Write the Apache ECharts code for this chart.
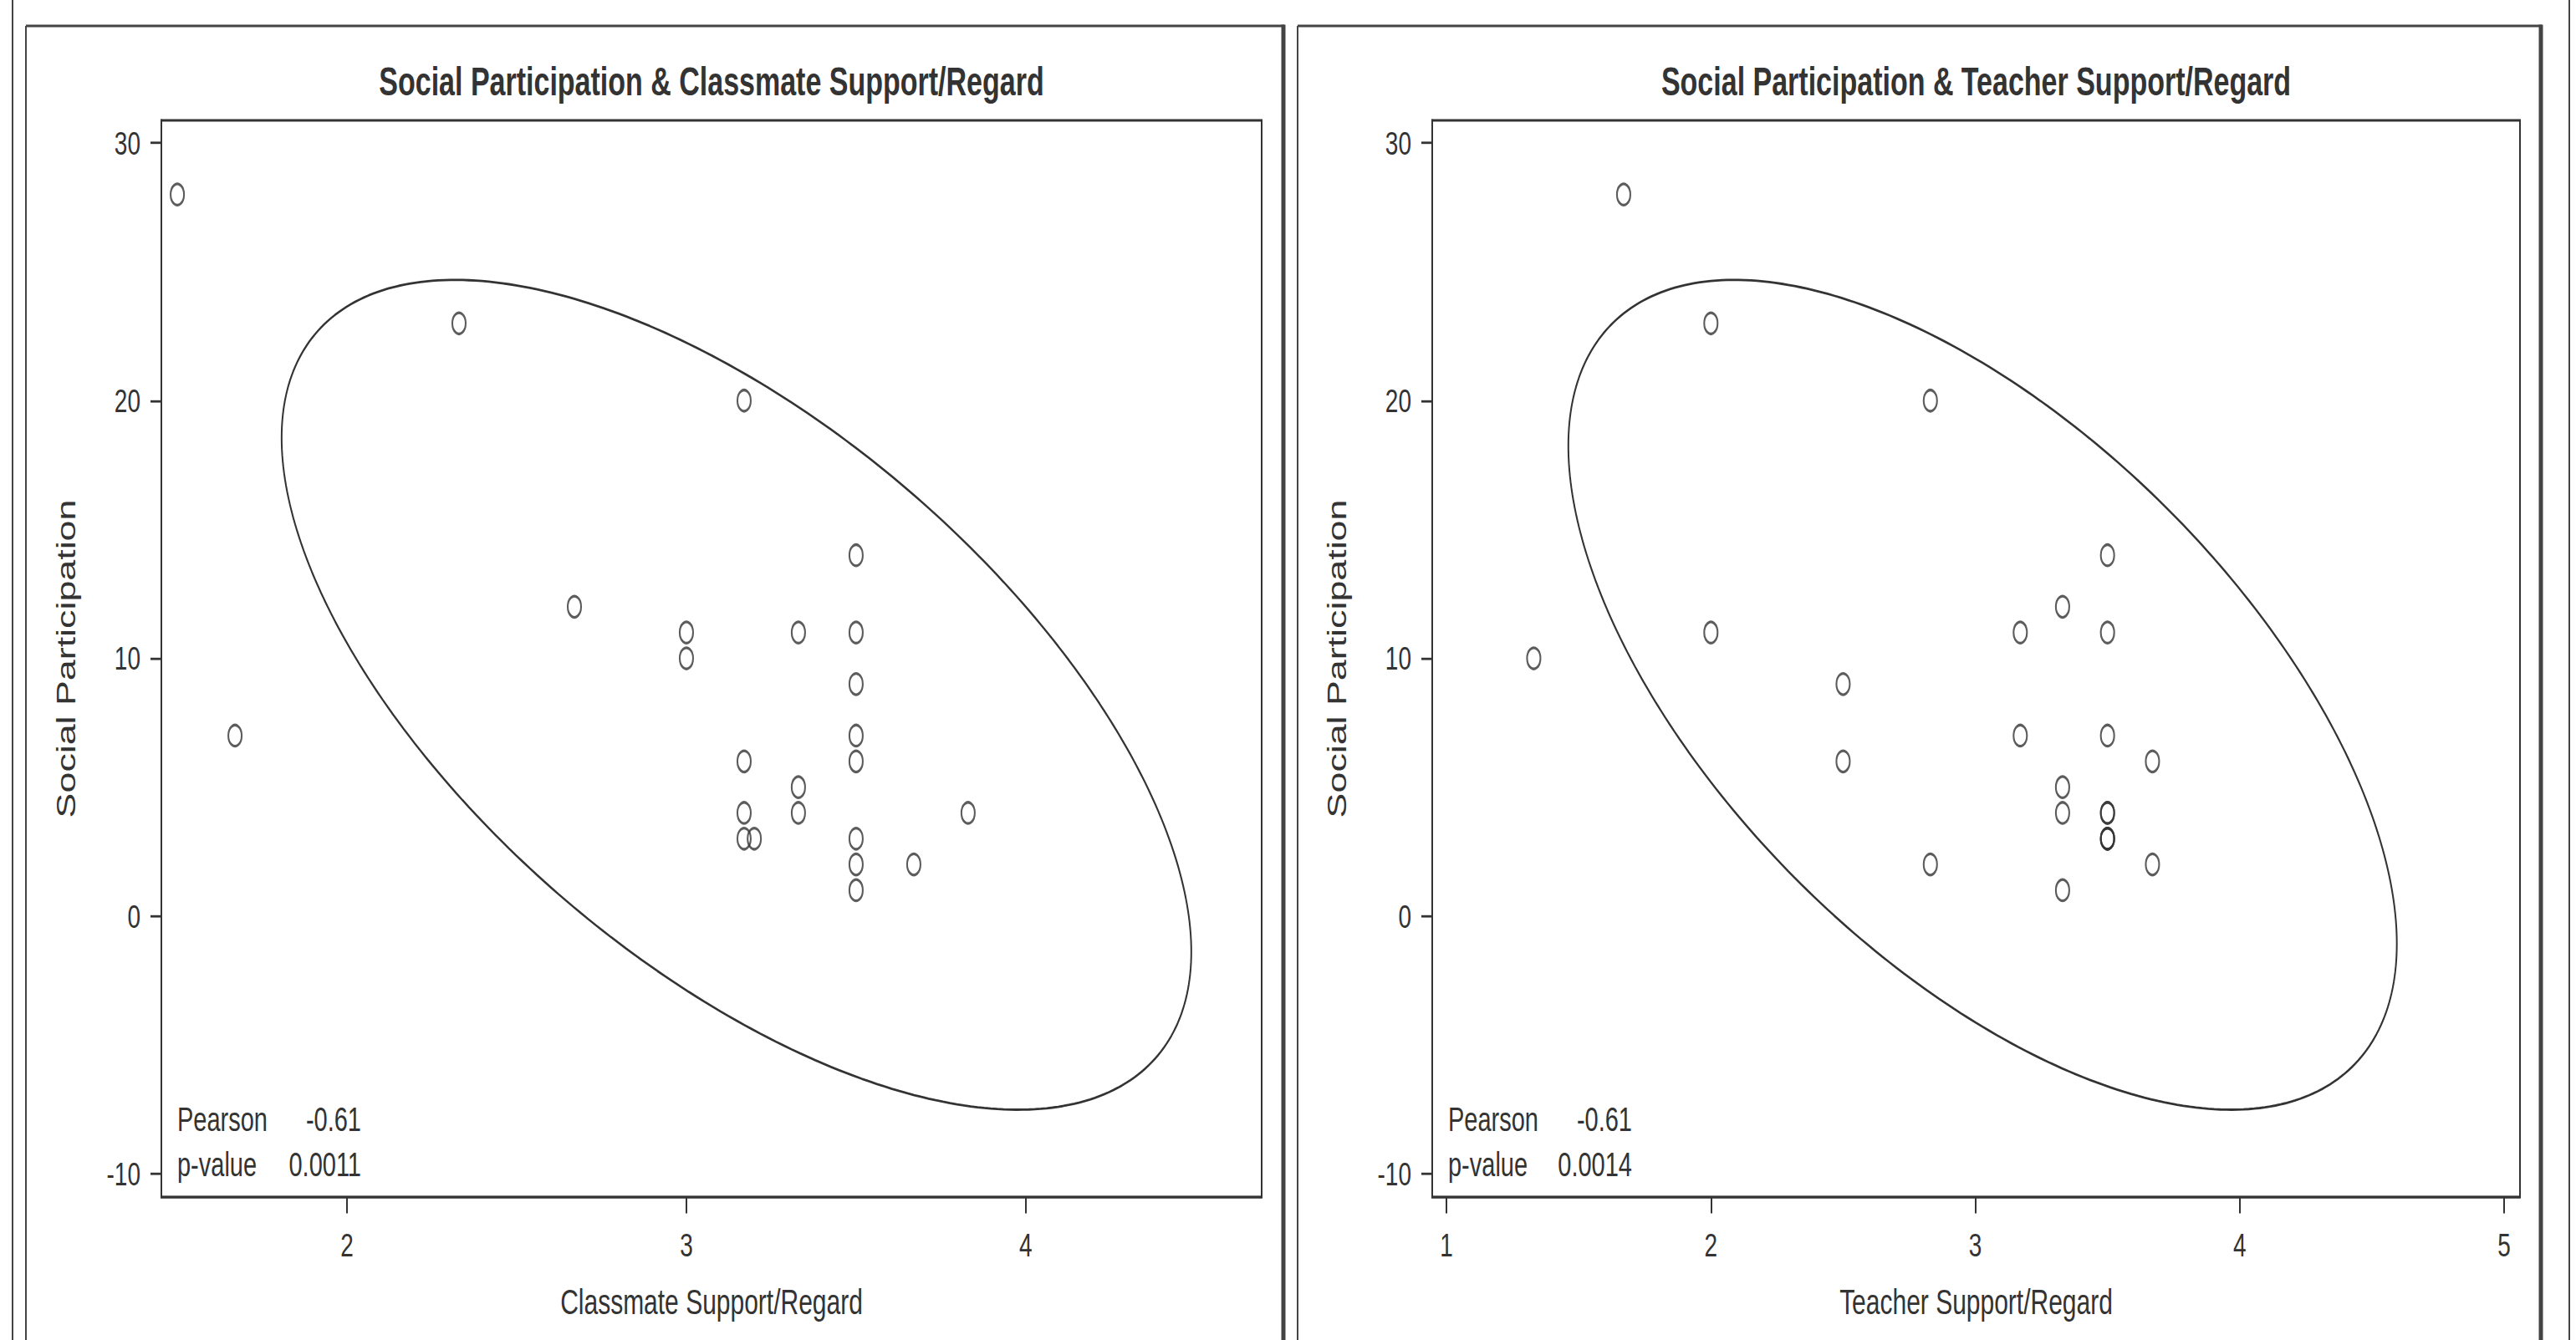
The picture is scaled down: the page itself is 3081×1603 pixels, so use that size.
<!DOCTYPE html>
<html>
<head>
<meta charset="utf-8">
<script src="https://cdn.jsdelivr.net/npm/echarts@6/dist/echarts.min.js"></script>
<style>
  html, body { margin: 0; padding: 0; background: #fff; }
  #frame { width: 3081px; height: 1603px; position: relative; overflow: hidden; background: #fff; }
  #chart { position: absolute; left: 0; top: 0; width: 3081px; height: 1145px; transform: scaleY(1.4); transform-origin: 0 0; }
</style>
</head>
<body>
<div id="frame"><div id="chart"></div></div>
<script>
// ---- data ----
const titles = ['Social Participation & Classmate Support/Regard', 'Social Participation & Teacher Support/Regard'];
const xNames = ['Classmate Support/Regard', 'Teacher Support/Regard'];
const yName = 'Social Participation';
const yTicks = [-10, 0, 10, 20, 30];
const leftXTicks = [2, 3, 4];
const rightXTicks = [1, 2, 3, 4, 5];

const classmateX = [1.5, 2.33, 3.17, 2.67, 3.0, 3.0, 3.33, 3.5, 3.5, 3.5, 3.5, 3.5, 3.17, 3.33, 3.33, 3.17, 3.17, 3.2, 3.5, 3.5, 3.5, 3.67, 3.83, 1.67];
const classmateY = [28, 23, 20, 12, 11, 10, 11, 14, 11, 9, 7, 6, 6, 5, 4, 4, 3, 3, 3, 2, 1, 2, 4, 7];

const teacherX = [1.67, 2.0, 2.83, 3.5, 3.33, 3.17, 3.5, 2.0, 1.33, 2.5, 3.17, 3.5, 2.5, 3.67, 3.33, 3.33, 3.5, 3.5, 3.5, 3.5, 3.5, 2.83, 3.67, 3.33];
const teacherY = [28, 23, 20, 14, 12, 11, 11, 11, 10, 9, 7, 7, 6, 6, 5, 4, 4, 4, 3, 3, 3, 2, 2, 1];

const pearsonLabels = ['Pearson', 'Pearson'];
const pearsonValues = ['-0.61', '-0.61'];
const pLabels = ['p-value', 'p-value'];
const pValues = ['0.0011', '0.0014'];

// ---- layout / style ----
const S = 1.4;                 // vertical stretch applied to the container
const FONT = "'Liberation Sans', Arial, Helvetica, sans-serif";
const INK = '#333';
const ELLIPSE_K = 2.32;        // scale of the ellipse

function ellipsePoints(xs, ys, k) {
  const n = xs.length;
  const mx = xs.reduce((a, b) => a + b, 0) / n;
  const my = ys.reduce((a, b) => a + b, 0) / n;
  let sxx = 0, syy = 0, sxy = 0;
  for (let i = 0; i < n; i++) {
    sxx += (xs[i] - mx) * (xs[i] - mx);
    syy += (ys[i] - my) * (ys[i] - my);
    sxy += (xs[i] - mx) * (ys[i] - my);
  }
  sxx /= (n - 1); syy /= (n - 1); sxy /= (n - 1);
  const l11 = Math.sqrt(sxx);
  const l21 = sxy / l11;
  const l22 = Math.sqrt(syy - l21 * l21);
  const pts = [];
  const N = 360;
  for (let i = 0; i <= N; i++) {
    const t = 2 * Math.PI * i / N;
    const c = Math.cos(t), s = Math.sin(t);
    pts.push([mx + k * l11 * c, my + k * (l21 * c + l22 * s)]);
  }
  return pts;
}
function pairs(xs, ys) { return xs.map((x, i) => [x, ys[i]]); }

const grids = [
  { left: 193, width: 1316, top: 144 / S, height: 1288 / S },
  { left: 1713, width: 1301, top: 144 / S, height: 1288 / S }
];
const xRanges = [[1.453, 4.695], [0.946, 5.06]];
const yRange = [-10.908, 30.876];

function xAxisCfg(gi, ticks) {
  return {
    type: 'value', gridIndex: gi, min: xRanges[gi][0], max: xRanges[gi][1],
    name: xNames[gi], nameLocation: 'middle', nameGap: 75,
    nameTextStyle: { fontSize: 30, color: INK, fontFamily: FONT },
    axisLine: { show: true, onZero: false, lineStyle: { color: INK, width: 2 } },
    axisTick: { show: true, inside: false, length: 14, customValues: ticks, lineStyle: { color: INK, width: 2 } },
    axisLabel: { show: true, customValues: ticks, margin: 27, fontSize: 28, color: INK, fontFamily: FONT },
    splitLine: { show: false }
  };
}
function yAxisCfg(gi) {
  return {
    type: 'value', gridIndex: gi, min: yRange[0], max: yRange[1],
    name: yName, nameLocation: 'middle', nameGap: 98,
    nameTextStyle: { fontSize: 32, color: INK, fontFamily: FONT },
    axisLine: { show: true, onZero: false, lineStyle: { color: INK, width: 2 } },
    axisTick: { show: true, inside: false, length: 13, customValues: yTicks, lineStyle: { color: INK, width: 2 } },
    axisLabel: { show: true, customValues: yTicks, margin: 25, fontSize: 28, color: INK, fontFamily: FONT },
    splitLine: { show: false }
  };
}
function scatterSeries(gi, xs, ys) {
  return {
    type: 'scatter', xAxisIndex: gi, yAxisIndex: gi, data: pairs(xs, ys),
    symbol: 'circle', symbolSize: [16, 18],
    itemStyle: { color: 'rgba(0,0,0,0)', borderColor: INK, borderWidth: 2.2 },
    z: 3
  };
}
function ellipseSeries(gi, xs, ys) {
  return {
    type: 'line', xAxisIndex: gi, yAxisIndex: gi, data: ellipsePoints(xs, ys, ELLIPSE_K),
    symbol: 'none', showSymbol: false, smooth: false, silent: true,
    lineStyle: { color: INK, width: 2 }, z: 2
  };
}

const H = 1603 / S;
const FR = '#444';
function vline(x, y1, y2, w) { return { type: 'line', shape: { x1: x, y1: y1, x2: x, y2: y2 }, style: { stroke: FR, lineWidth: w }, silent: true }; }
function hline(x1, x2, y, w) { return { type: 'line', shape: { x1: x1, y1: y, x2: x2, y2: y }, style: { stroke: FR, lineWidth: w }, silent: true }; }
function txt(text, x, y, size, align, weight) {
  return { type: 'text', silent: true, style: { text: text, x: x, y: y, fill: INK,
    font: (weight || 'normal') + ' ' + size + 'px ' + FONT, textAlign: align, textVerticalAlign: 'middle' } };
}

const graphics = [
  vline(15, 0, H + 10, 2),
  vline(31, 31 / S, H + 10, 2),
  hline(31, 1536, 31 / S, 2),
  vline(1535, 31 / S - 1, H + 10, 5),
  vline(1552, 31 / S, H + 10, 2),
  hline(1552, 3040, 31 / S, 2),
  vline(3039, 31 / S - 1, H + 10, 5),
  vline(3073, 0, H + 10, 2)
];
[0, 1].forEach(function (gi) {
  const g = grids[gi];
  graphics.push(txt(titles[gi], g.left + g.width / 2, 98 / S, 34, 'center', 'bold'));
  graphics.push(txt(pearsonLabels[gi], g.left + 19, 1339 / S, 29, 'left'));
  graphics.push(txt(pearsonValues[gi], g.left + 239, 1339 / S, 29, 'right'));
  graphics.push(txt(pLabels[gi], g.left + 19, 1393 / S, 29, 'left'));
  graphics.push(txt(pValues[gi], g.left + 239, 1393 / S, 29, 'right'));
});

const chart = echarts.init(document.getElementById('chart'), null, { renderer: 'svg', width: 3081, height: H });
chart.setOption({
  animation: false,
  backgroundColor: '#fff',
  grid: grids.map(g => Object.assign({ show: true, borderColor: INK, borderWidth: 2, backgroundColor: 'transparent', containLabel: false }, g)),
  xAxis: [xAxisCfg(0, leftXTicks), xAxisCfg(1, rightXTicks)],
  yAxis: [yAxisCfg(0), yAxisCfg(1)],
  series: [
    ellipseSeries(0, classmateX, classmateY),
    scatterSeries(0, classmateX, classmateY),
    ellipseSeries(1, teacherX, teacherY),
    scatterSeries(1, teacherX, teacherY)
  ],
  graphic: { elements: graphics }
});
</script>
</body>
</html>
